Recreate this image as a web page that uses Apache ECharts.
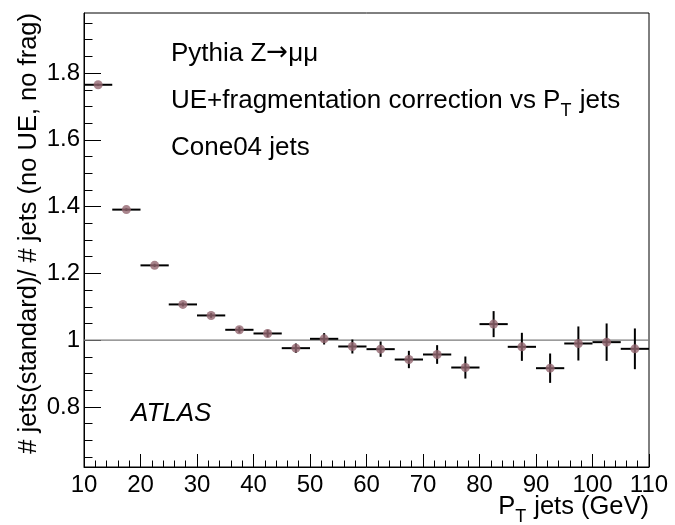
<!DOCTYPE html>
<html>
<head>
<meta charset="utf-8">
<script src="https://cdn.jsdelivr.net/npm/echarts@6/dist/echarts.min.js"></script>
<style>
  html, body { margin: 0; padding: 0; background: #ffffff; }
  #chart { width: 675px; height: 525px; }
</style>
</head>
<body>
<div id="chart"></div>
<script>
// Jet pT bins (GeV): bin centres and common bin width
const ptBinCentres = [12.5, 17.5, 22.5, 27.5, 32.5, 37.5, 42.5, 47.5, 52.5, 57.5,
                      62.5, 67.5, 72.5, 77.5, 82.5, 87.5, 92.5, 97.5, 102.5, 107.5];
const binWidth = 5;

// Ratio #jets(standard) / #jets(no UE, no frag) and its statistical error
const ratioValues = [1.765, 1.391, 1.224, 1.107, 1.074, 1.031, 1.020, 0.976, 1.004, 0.981,
                     0.973, 0.942, 0.957, 0.918, 1.048, 0.980, 0.916, 0.990, 0.994, 0.974];
const ratioErrors = [0.003, 0.004, 0.005, 0.006, 0.007, 0.009, 0.011, 0.014, 0.017, 0.021,
                     0.023, 0.026, 0.028, 0.033, 0.039, 0.042, 0.044, 0.051, 0.056, 0.061];

// Axis ranges and tick values
const xRange = [10, 110];
const xMajorStep = 10;
const yRange = [0.62, 1.98];
const yMajorTicks = [0.8, 1.0, 1.2, 1.4, 1.6, 1.8];
const yMinorTicks = [0.65, 0.7, 0.75, 0.85, 0.9, 0.95, 1.05, 1.1, 1.15, 1.25, 1.3, 1.35,
                     1.45, 1.5, 1.55, 1.65, 1.7, 1.75, 1.85, 1.9, 1.95];
const referenceLevel = 1;

// Text
const yTitle = '# jets(standard)/ # jets (no UE, no frag)';
const processLabel = ['Pythia Z', '\u2192', '\u03bc\u03bc'];
const correctionLabel = 'UE+fragmentation correction vs P';
const jetLabel = 'Cone04 jets';
const experimentLabel = 'ATLAS';

const FONT = '"Liberation Sans", Arial, Helvetica, sans-serif';
const ARROW_FONT = '"DejaVu Sans", sans-serif';
const FS = 25.5;
const NOTE_FS = 26;
const SUB_FS = 18;

const measureCtx = document.createElement('canvas').getContext('2d');
function textWidth(str, size, family) {
  measureCtx.font = size + 'px ' + (family || FONT);
  return measureCtx.measureText(str).width;
}
function txt(x, baseline, str, size, family) {
  return {
    type: 'text',
    x: x,
    y: baseline - 0.35 * size,
    style: {
      text: str, fontFamily: family || FONT, fontSize: size, fill: '#000',
      align: 'left', verticalAlign: 'middle'
    }
  };
}
// head text, subscript "T", then a tail string, starting at x
function withSubscript(x, baseline, head, tail, size) {
  const wHead = textWidth(head, size);
  const wSub = textWidth('T', SUB_FS);
  return [
    txt(x, baseline, head, size),
    txt(x + wHead, baseline + 7, 'T', SUB_FS),
    txt(x + wHead + wSub + 1, baseline, tail, size)
  ];
}
// "Pythia Z→μμ" with the arrow taken from a font that has a long arrow glyph
function processText(x, baseline) {
  const w0 = textWidth(processLabel[0], NOTE_FS);
  const w1 = textWidth(processLabel[1], NOTE_FS, ARROW_FONT);
  return [
    txt(x, baseline, processLabel[0], NOTE_FS),
    txt(x + w0, baseline - 1, processLabel[1], NOTE_FS, ARROW_FONT),
    txt(x + w0 + w1, baseline, processLabel[2], NOTE_FS)
  ];
}

const chart = echarts.init(document.getElementById('chart'), null, { renderer: 'canvas' });

const gridBox = { left: 84, right: 26, top: 13, bottom: 58 };

const xTitleTail = ' jets (GeV)';
const xTitleWidth = textWidth('P', FS) + textWidth('T', SUB_FS) + 1 + textWidth(xTitleTail, FS);
const xTitleStart = 675 - gridBox.right - xTitleWidth;

const graphics = [].concat(
  processText(171, 63),
  withSubscript(171, 110, correctionLabel, ' jets', NOTE_FS),
  [txt(171, 157, jetLabel, NOTE_FS)],
  [{
    type: 'text', x: 131, y: 423 - 0.35 * 26,
    style: { text: experimentLabel, fontFamily: FONT, fontSize: 26, fontStyle: 'italic',
             fill: '#000', align: 'left', verticalAlign: 'middle' }
  }],
  withSubscript(xTitleStart, 516, 'P', xTitleTail, FS),
  [{
    type: 'text', x: 38 - 0.35 * FS, y: gridBox.top, rotation: Math.PI / 2,
    style: { text: yTitle, fontFamily: FONT, fontSize: FS, fill: '#000',
             align: 'right', verticalAlign: 'middle' }
  }]
);

const errorData = ptBinCentres.map((c, i) => [c, ratioValues[i], ratioErrors[i]]);
const pointData = ptBinCentres.map((c, i) => [c, ratioValues[i]]);

const option = {
  backgroundColor: '#ffffff',
  animation: false,
  grid: Object.assign({ show: true, borderColor: '#000', borderWidth: 1, backgroundColor: 'transparent' }, gridBox),
  xAxis: {
    type: 'value',
    min: xRange[0], max: xRange[1], interval: xMajorStep,
    axisLine: { show: true, onZero: false, lineStyle: { color: '#000', width: 1 } },
    axisTick: { show: true, inside: true, length: 13, lineStyle: { color: '#000', width: 1 } },
    minorTick: { show: true, splitNumber: 5, length: 6.5, lineStyle: { color: '#000', width: 1 } },
    axisLabel: { color: '#000', fontFamily: FONT, fontSize: 24, margin: 6 },
    splitLine: { show: false }
  },
  yAxis: [
    {
      type: 'value',
      min: yRange[0], max: yRange[1],
      axisLine: { show: true, onZero: false, lineStyle: { color: '#000', width: 1 } },
      axisTick: { show: true, inside: true, length: 17, customValues: yMajorTicks,
                  lineStyle: { color: '#000', width: 1 } },
      axisLabel: { color: '#000', fontFamily: FONT, fontSize: 24, margin: 4, customValues: yMajorTicks },
      splitLine: { show: false }
    },
    {
      type: 'value',
      min: yRange[0], max: yRange[1], position: 'left', offset: 0,
      axisLine: { show: false },
      axisTick: { show: true, inside: true, length: 8.5, customValues: yMinorTicks,
                  lineStyle: { color: '#000', width: 1 } },
      axisLabel: { show: false },
      splitLine: { show: false }
    }
  ],
  graphic: graphics,
  series: [
    {
      type: 'line',
      data: [[xRange[0], referenceLevel], [xRange[1], referenceLevel]],
      symbol: 'none',
      lineStyle: { color: '#7a7a7a', width: 1.3 },
      silent: true,
      z: 1
    },
    {
      type: 'custom',
      data: errorData,
      encode: { x: 0, y: 1 },
      z: 2,
      renderItem: function (params, api) {
        const x = api.value(0), y = api.value(1), e = api.value(2);
        const l = api.coord([x - binWidth / 2, y]);
        const r = api.coord([x + binWidth / 2, y]);
        const t = api.coord([x, y + e]);
        const b = api.coord([x, y - e]);
        return {
          type: 'group',
          children: [
            { type: 'line', shape: { x1: l[0], y1: l[1], x2: r[0], y2: r[1] },
              style: { stroke: '#000', lineWidth: 2 } },
            { type: 'line', shape: { x1: t[0], y1: t[1], x2: b[0], y2: b[1] },
              style: { stroke: '#000', lineWidth: 2 } }
          ]
        };
      }
    },
    {
      type: 'scatter',
      data: pointData,
      symbol: 'circle',
      symbolSize: 9,
      itemStyle: { color: '#946670' },
      z: 3
    }
  ]
};

chart.setOption(option);
</script>
</body>
</html>
